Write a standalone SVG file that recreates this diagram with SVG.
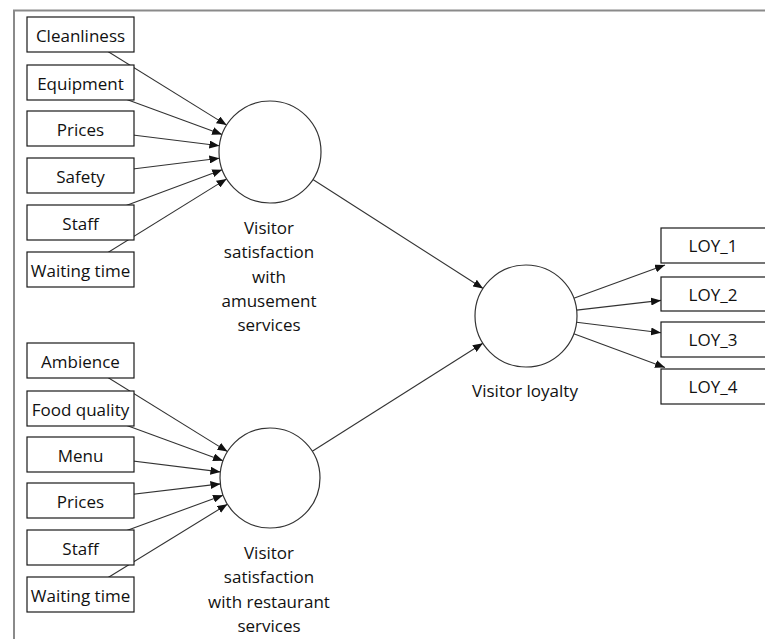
<svg xmlns="http://www.w3.org/2000/svg" width="765" height="639" viewBox="0 0 765 639">
<style>
.box{fill:#fff;stroke:#1a1a1a;stroke-width:1.2}
.lat{fill:#fff;stroke:#333;stroke-width:1.2}
.t{font-family:"Open Sans","Noto Sans","DejaVu Sans",sans-serif;font-size:17px;fill:#111;text-anchor:middle}
.c{stroke:#333;stroke-width:1.1;fill:none;marker-end:url(#ah)}
</style>
<defs>
<marker id="ah" markerUnits="userSpaceOnUse" markerWidth="10" markerHeight="8" refX="10" refY="4" orient="auto">
<path d="M0,0 L10,4 L0,8 z" fill="#111"/>
</marker>
</defs>
<rect x="0" y="0" width="765" height="639" fill="#fff"/>
<path d="M14,660 L14,10.5 L780,10.5" fill="none" stroke="#8a8a8a" stroke-width="2"/>
<g id="connectors">
<line class="c" x1="80.5" y1="34.5" x2="226.6" y2="125.1"/>
<line class="c" x1="80.5" y1="82.5" x2="222.1" y2="134.4"/>
<line class="c" x1="80.5" y1="128.5" x2="219.4" y2="145.7"/>
<line class="c" x1="80.5" y1="175.5" x2="219.4" y2="158.3"/>
<line class="c" x1="80.5" y1="222.5" x2="222.2" y2="169.8"/>
<line class="c" x1="80.5" y1="269.5" x2="226.6" y2="178.9"/>
<line class="c" x1="80.5" y1="360.5" x2="227.5" y2="451.6"/>
<line class="c" x1="80.5" y1="408.5" x2="223.0" y2="460.8"/>
<line class="c" x1="80.5" y1="454.5" x2="220.4" y2="471.9"/>
<line class="c" x1="80.5" y1="500.5" x2="220.4" y2="483.9"/>
<line class="c" x1="80.5" y1="547.5" x2="223.0" y2="495.2"/>
<line class="c" x1="80.5" y1="594.5" x2="227.4" y2="504.2"/>
<line class="c" x1="312.9" y1="179.5" x2="483.1" y2="288.5"/>
<line class="c" x1="312.3" y1="451.3" x2="482.9" y2="343.3"/>
<line class="c" x1="573.8" y1="298.3" x2="665" y2="265"/>
<line class="c" x1="576.6" y1="310.1" x2="661" y2="300.4"/>
<line class="c" x1="576.6" y1="322.3" x2="661" y2="332.7"/>
<line class="c" x1="573.8" y1="333.7" x2="665" y2="367.5"/>
</g>
<g id="n-cleanliness"><rect class="box" x="27" y="17" width="107" height="35"/><text class="t" x="80.5" y="41.5">Cleanliness</text></g>
<g id="n-equipment"><rect class="box" x="27" y="65" width="107" height="35"/><text class="t" x="80.5" y="89.5">Equipment</text></g>
<g id="n-prices1"><rect class="box" x="27" y="111" width="107" height="35"/><text class="t" x="80.5" y="135.5">Prices</text></g>
<g id="n-safety"><rect class="box" x="27" y="158" width="107" height="35"/><text class="t" x="80.5" y="182.5">Safety</text></g>
<g id="n-staff1"><rect class="box" x="27" y="205" width="107" height="35"/><text class="t" x="80.5" y="229.5">Staff</text></g>
<g id="n-waiting1"><rect class="box" x="27" y="252" width="107" height="35"/><text class="t" x="80.5" y="276.5">Waiting time</text></g>
<g id="n-ambience"><rect class="box" x="27" y="343" width="107" height="35"/><text class="t" x="80.5" y="367.5">Ambience</text></g>
<g id="n-food"><rect class="box" x="27" y="391" width="107" height="35"/><text class="t" x="80.5" y="415.5">Food quality</text></g>
<g id="n-menu"><rect class="box" x="27" y="437" width="107" height="35"/><text class="t" x="80.5" y="461.5">Menu</text></g>
<g id="n-prices2"><rect class="box" x="27" y="483" width="107" height="35"/><text class="t" x="80.5" y="507.5">Prices</text></g>
<g id="n-staff2"><rect class="box" x="27" y="530" width="107" height="35"/><text class="t" x="80.5" y="554.5">Staff</text></g>
<g id="n-waiting2"><rect class="box" x="27" y="577" width="107" height="35"/><text class="t" x="80.5" y="601.5">Waiting time</text></g>
<g id="n-amusement"><circle class="lat" cx="270" cy="152" r="51"/>
<text class="t" x="269" y="233.5">Visitor</text><text class="t" x="269" y="258">satisfaction</text><text class="t" x="269" y="282.5">with</text><text class="t" x="269" y="306.5">amusement</text><text class="t" x="269" y="330.5">services</text></g>
<g id="n-restaurant"><circle class="lat" cx="270" cy="478" r="50"/>
<text class="t" x="269" y="558.5">Visitor</text><text class="t" x="269" y="583">satisfaction</text><text class="t" x="269" y="607.5">with restaurant</text><text class="t" x="269" y="631.5">services</text></g>
<g id="n-loyalty"><circle class="lat" cx="526" cy="316" r="51"/><text class="t" x="525" y="397">Visitor loyalty</text></g>
<g id="n-loy1"><rect class="box" x="661" y="228" width="115" height="35"/><text class="t" x="713" y="251.5">LOY_1</text></g>
<g id="n-loy2"><rect class="box" x="661" y="277" width="115" height="34"/><text class="t" x="713" y="300.5">LOY_2</text></g>
<g id="n-loy3"><rect class="box" x="661" y="322" width="115" height="35"/><text class="t" x="713" y="345.5">LOY_3</text></g>
<g id="n-loy4"><rect class="box" x="661" y="369" width="115" height="35"/><text class="t" x="713" y="392.5">LOY_4</text></g>
</svg>
